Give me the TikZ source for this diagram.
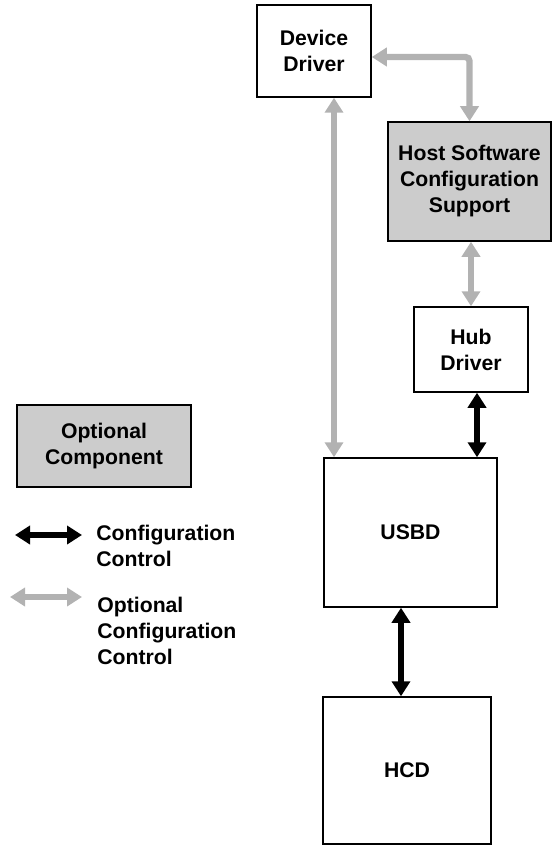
\documentclass[tikz,border=0pt]{standalone}
\usepackage{fontspec}
\setmainfont{Liberation Sans}
\usetikzlibrary{arrows.meta}

\definecolor{optgray}{HTML}{CCCCCC}
\definecolor{arrowgray}{HTML}{B2B2B2}

\begin{document}
\begin{tikzpicture}[x=0.5pt, y=-0.5pt,
  box/.style={draw, line width=0.75pt, inner sep=0pt, align=center,
    font=\bfseries\fontsize{10.6}{13}\selectfont},
  optbox/.style={box, fill=optgray},
  cfg/.style={{Triangle[length=7.5pt,width=9pt]}-{Triangle[length=7.5pt,width=9pt]},
    line width=3.2pt},
  optcfg/.style={cfg, draw=arrowgray, rounded corners=2pt},
  legtext/.style={anchor=west, align=left, inner sep=0pt,
    font=\bfseries\fontsize{10.6}{13}\selectfont}]
  \useasboundingbox (0,0) rectangle (552,845);
  % blocks
  \node[box, minimum width=57pt, minimum height=46pt] (dev) at (314,51) {Device\\Driver};
  \node[optbox, minimum width=81.5pt, minimum height=59.5pt] (hsc) at (469.5,181.5)
    {Host Software\\Configuration\\Support};
  \node[box, minimum width=57pt, minimum height=42.5pt] (hub) at (471,349.5) {Hub\\Driver};
  \node[box, minimum width=86.5pt, minimum height=74.5pt] (usbd) at (410.5,532.5) {USBD};
  \node[box, minimum width=84pt, minimum height=73.5pt] (hcd) at (407,770.5) {HCD};
  % optional configuration control
  \draw[optcfg] ([yshift=-3pt]dev.east) -| (hsc.north);
  \draw[optcfg] ([xshift=10pt]dev.south) -- ([xshift=10pt]dev.south |- usbd.north);
  \draw[optcfg] (hub.north |- hsc.south) -- (hub.north);
  % configuration control
  \draw[cfg] ([xshift=3pt]hub.south) -- ([xshift=3pt]hub.south |- usbd.north);
  \draw[cfg] ([xshift=-3pt]hcd.north |- usbd.south) -- ([xshift=-3pt]hcd.north);
  % legend
  \node[optbox, minimum width=87pt, minimum height=41pt] (opt) at (104,446) {Optional\\Component};
  \coordinate (k1a) at (15,535);
  \coordinate (k1b) at (82,535);
  \draw[cfg] (k1a) -- (k1b);
  \node[legtext] (k1) at (96,546) {Configuration\\Control};
  \coordinate (k2a) at (10,597);
  \coordinate (k2b) at (82,597);
  \draw[optcfg] (k2a) -- (k2b);
  \node[legtext] (k2) at (97,631) {Optional\\Configuration\\Control};
\end{tikzpicture}
\end{document}
